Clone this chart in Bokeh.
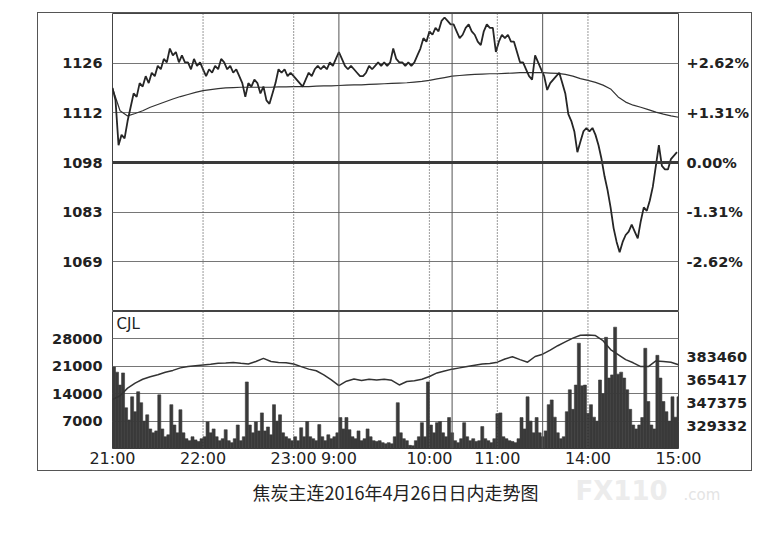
from bokeh.plotting import figure
from bokeh.models import Range1d, LinearAxis, FixedTicker, Span, Label, Spacer, BasicTickFormatter
from bokeh.layouts import column, row
from bokeh.embed import file_html
from bokeh.resources import INLINE
from bokeh.core.properties import value

# ---------------- data ----------------
PRE_CLOSE = 1098
PCT_STEP = 1.31
price_tick_labels = ["1069", "1083", "1098", "1112", "1126"]
pct_tick_labels = ["-2.62%", "-1.31%", "0.00%", "+1.31%", "+2.62%"]
vol_ticks = [7000, 14000, 21000, 28000]
oi_ticks = [329332, 347375, 365417, 383460]

# trading minutes since 21:00 (night 21:00-23:30, 9:00-10:15, 10:30-11:30, 13:30-15:00)
time_ticks = [0, 60, 120, 150, 210, 255, 315, 375]
time_labels = ["21:00", "22:00", "23:00", "9:00", "10:00", "11:00", "14:00", "15:00"]
session_breaks = [150, 225, 285]
hour_lines = [60, 120, 210, 255, 315]

price_minutes = list(range(0, 375, 2))
price = [
    1119.6, 1116, 1103, 1106, 1105, 1110, 1114, 1118, 1117, 1121,
    1120, 1123, 1121, 1124, 1123, 1126, 1125, 1128, 1127, 1131,
    1129, 1130, 1127, 1129, 1127, 1127, 1125, 1128, 1126, 1127,
    1125, 1123, 1125, 1124, 1126, 1125, 1128, 1127, 1125, 1126,
    1124, 1125, 1123, 1121, 1117, 1121, 1120, 1122, 1121, 1118,
    1120, 1116, 1115, 1118, 1121, 1125, 1124, 1125, 1123, 1124,
    1123, 1122, 1121, 1120, 1122, 1124, 1123, 1125, 1126, 1125,
    1126, 1125, 1127, 1126, 1128, 1130, 1128, 1126, 1125, 1126,
    1125, 1124, 1123, 1123, 1124, 1126, 1125, 1126, 1127, 1126,
    1127, 1126, 1127, 1131, 1128, 1127, 1127, 1126, 1127, 1126,
    1127, 1129, 1131, 1134, 1133, 1136, 1135, 1137, 1136, 1139,
    1140, 1139, 1138, 1138, 1136, 1134, 1135, 1137, 1138, 1136,
    1135, 1133, 1132, 1136, 1138, 1137, 1137, 1130, 1133, 1135,
    1134, 1135, 1133, 1133, 1130, 1127, 1127, 1125, 1123, 1122,
    1129, 1127, 1125, 1123, 1119, 1121, 1122, 1123, 1124, 1121,
    1118, 1112, 1110, 1107, 1101, 1104, 1107, 1108, 1107, 1108,
    1106, 1103, 1099, 1094, 1090, 1085, 1079, 1075, 1072, 1075,
    1077, 1078, 1080, 1078, 1076, 1081, 1085, 1084, 1087, 1091,
    1097, 1103, 1097, 1096, 1096, 1099, 1100, 1101,
]

avg_minutes = list(range(0, 376, 5))
avg_price = [
    1119.5, 1113, 1111.5, 1112.2, 1113, 1114, 1114.8, 1115.6, 1116.4, 1117.1,
    1117.7, 1118.3, 1118.8, 1119.1, 1119.4, 1119.6, 1119.7, 1119.8, 1119.8, 1119.8,
    1119.8, 1119.8, 1119.9, 1119.9, 1120, 1120, 1120, 1120.1, 1120.2, 1120.2,
    1120.3, 1120.4, 1120.5, 1120.5, 1120.6, 1120.7, 1120.8, 1120.9, 1121, 1121.1,
    1121.3, 1121.5, 1121.8, 1122.2, 1122.6, 1123, 1123.2, 1123.4, 1123.5, 1123.6,
    1123.7, 1123.7, 1123.8, 1123.9, 1124, 1124, 1124, 1124, 1123.9, 1123.8,
    1123.5, 1123, 1122.3, 1121.8, 1121.2, 1120.4, 1119.3, 1117, 1115.5, 1114.6,
    1114, 1113.3, 1112.6, 1112, 1111.5, 1111.1,
]

open_interest = [
    350000, 353000, 359000, 363000, 366000, 368000, 369500, 371500, 373000, 375000,
    376000, 376700, 377300, 377800, 378600, 378900, 379300, 378600, 378000, 380000,
    382500, 380000, 379300, 379000, 378000, 376000, 374000, 372700, 369500, 365500,
    361000, 364500, 366200, 365000, 366000, 365500, 366000, 365200, 361500, 364200,
    364900, 366000, 368200, 371000, 372500, 374000, 375000, 376000, 377000, 378000,
    378500, 379500, 382000, 383800, 381500, 379500, 384000, 385800, 389000, 392500,
    395500, 398500, 400800, 401000, 400500, 396500, 389500, 385500, 381500, 379000,
    376000, 376000, 380500, 380000, 379500, 377500,
]

volume = [
    20800, 19500, 16200, 19300, 10400, 7300, 13200, 9400, 14500, 11700,
    7000, 8600, 5000, 4000, 4500, 13700, 5000, 3000, 3500, 11200,
    6000, 4000, 9900, 4000, 2500, 2000, 3000, 2200, 1800, 2500,
    3000, 6800, 4000, 5000, 3000, 2000, 2500, 4800, 2000, 1500,
    2500, 6000, 2000, 3000, 17000, 6000, 4000, 6800, 4500, 9100,
    4500, 5500, 3500, 11200, 7000, 8600, 4000, 3000, 2500, 2000,
    3000, 2000, 5300, 3000, 6900, 3000, 2500, 2000, 6100, 3000,
    2000, 3500, 2500, 3000, 4000, 7900, 5000, 7900, 4800, 3000,
    2500, 4500, 2000, 2500, 5000, 3000, 2000, 1800, 2000, 1500,
    1200, 1500, 1200, 3000, 11700, 4000, 2500, 2000, 800, 700,
    2000, 3000, 6600, 3000, 17000, 6000, 4000, 6600, 6900, 4000,
    3000, 7900, 4000, 2000, 1500, 2500, 6600, 3000, 2000, 2500,
    1800, 2000, 5600, 2500, 2000, 1500, 2500, 8900, 9100, 3000,
    2500, 2000, 1800, 1500, 2500, 7900, 5000, 13200, 7000, 4000,
    7900, 4000, 3000, 4500, 11200, 12400, 8000, 4000, 2500, 3000,
    9400, 15000, 10000, 16200, 26900, 16000, 16200, 9000, 11200, 8000,
    7000, 17500, 14000, 28400, 18000, 18800, 31000, 19000, 19500, 18000,
    15000, 10000, 6000, 5000, 6000, 7900, 25600, 12000, 6000, 5000,
    23800, 18000, 12000, 9400, 7000, 13200, 8000, 13200,
]

title_text = "焦炭主连2016年4月26日日内走势图"

# ---------------- styling ----------------
INK = "#262626"
GRID = "#767676"
FONT = "DejaVu Sans"


def style_axis(ax, size="14.5px", bold=True, standoff=10):
    ax.axis_line_color = None
    ax.major_tick_line_color = None
    ax.minor_tick_line_color = None
    ax.major_tick_out = 0
    ax.major_tick_in = 0
    ax.minor_tick_out = 0
    ax.minor_tick_in = 0
    ax.major_label_text_font = FONT
    ax.major_label_text_font_size = size
    ax.major_label_text_font_style = "bold" if bold else "normal"
    ax.major_label_text_color = "#222222"
    ax.major_label_standoff = standoff


def add_vlines(p):
    for m in session_breaks:
        p.add_layout(Span(location=m, dimension="height", line_color="#555555", line_width=1))
    for m in hour_lines:
        p.add_layout(Span(location=m, dimension="height", line_color="#555555",
                          line_width=1.2, line_dash="1 2"))


x_range = Range1d(time_ticks[0], time_ticks[-1])
n = len(price_tick_labels) // 2
span_pct = (n + 1) * PCT_STEP
price_ticks = [PRE_CLOSE * (1 + k * PCT_STEP / 100) for k in range(-n, n + 1)]

# ---------------- price panel ----------------
p1 = figure(width=713, height=298, x_range=x_range,
            y_range=Range1d(PRE_CLOSE * (1 - span_pct / 100), PRE_CLOSE * (1 + span_pct / 100)),
            x_axis_location=None, output_backend="svg", toolbar_location=None,
            min_border_left=74, min_border_right=71, min_border_top=0, min_border_bottom=0)
p1.outline_line_color = "#444444"
p1.xgrid.visible = False
p1.yaxis.ticker = FixedTicker(ticks=price_ticks)
p1.yaxis.major_label_overrides = dict(zip(price_ticks, price_tick_labels))
style_axis(p1.yaxis[0])
p1.ygrid.grid_line_color = GRID
p1.ygrid.grid_line_width = 1
ra = LinearAxis(ticker=FixedTicker(ticks=price_ticks),
                major_label_overrides=dict(zip(price_ticks, pct_tick_labels)))
style_axis(ra, standoff=8)
p1.add_layout(ra, "right")
add_vlines(p1)
p1.add_layout(Span(location=PRE_CLOSE, dimension="width", line_color="#3a3a3a", line_width=3))
p1.line(avg_minutes, avg_price, line_color="#333333", line_width=1.2)
p1.line(price_minutes, price, line_color=INK, line_width=1.8)

# ---------------- volume panel ----------------
vol_top = vol_ticks[0] * (len(vol_ticks) + 1)
oi_step = (oi_ticks[-1] - oi_ticks[0]) / (len(oi_ticks) - 1)
p2 = figure(width=713, height=159, x_range=x_range, y_range=Range1d(0, vol_top),
            output_backend="svg", toolbar_location=None,
            min_border_left=74, min_border_right=71, min_border_top=0, min_border_bottom=19)
p2.extra_y_ranges = {"oi": Range1d(oi_ticks[0] - oi_step, oi_ticks[-1] + 2 * oi_step)}
p2.outline_line_color = "#444444"
p2.xgrid.visible = False
p2.yaxis.ticker = FixedTicker(ticks=vol_ticks)
style_axis(p2.yaxis[0])
p2.ygrid.grid_line_color = GRID
p2.ygrid.grid_line_width = 1
ra2 = LinearAxis(y_range_name="oi", ticker=FixedTicker(ticks=oi_ticks),
                 formatter=BasicTickFormatter(use_scientific=False))
style_axis(ra2, standoff=8)
p2.add_layout(ra2, "right")
p2.xaxis.ticker = FixedTicker(ticks=time_ticks)
p2.xaxis.major_label_overrides = dict(zip(time_ticks, time_labels))
style_axis(p2.xaxis[0], size="16px", bold=False, standoff=0)
add_vlines(p2)
p2.vbar(x=[m + 1 for m in price_minutes], width=2, top=volume, bottom=0,
        fill_color="#3a3a3a", line_color="#3a3a3a", line_width=0.6)
p2.line(avg_minutes, open_interest, y_range_name="oi", line_color="#333333", line_width=1.5)
p2.add_layout(Label(x=time_ticks[0], y=vol_top, x_offset=4, y_offset=-3, text="CJL",
                    text_baseline="top", text_font=FONT, text_font_size="15px",
                    text_color="#222222"))

chart = column(p1, p2, styles={"border": "1px solid #555555"})

# ---------------- caption ----------------
tf = figure(width=748, height=50, x_range=Range1d(0, 748), y_range=Range1d(0, 50),
            output_backend="svg", toolbar_location=None, min_border=0)
tf.axis.visible = False
tf.grid.visible = False
tf.outline_line_color = None
tf.text(x=[575], y=[31], text=["FX110"], text_font=value(FONT), text_font_size="26px",
        text_font_style="bold", text_color="#ececec", text_baseline="middle")
tf.text(x=[683], y=[27], text=[".com"], text_font=value(FONT), text_font_size="15px",
        text_color="#e4e4e4", text_baseline="middle")
tf.text(x=[395], y=[30], text=[title_text], text_font=value("Noto Sans CJK SC"),
        text_font_size="18px", text_color="#222222", text_align="center",
        text_baseline="middle")

page = column(Spacer(height=12), row(Spacer(width=37), chart), tf)
open("out.html", "w").write(file_html(page, INLINE))
